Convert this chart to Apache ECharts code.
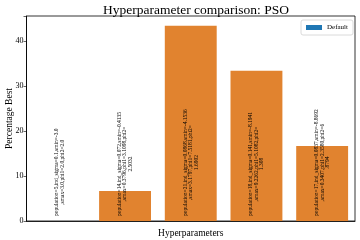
<!DOCTYPE html>
<html><head><meta charset="utf-8">
<script src="https://cdn.jsdelivr.net/npm/echarts@6/dist/echarts.min.js"></script>
<style>html,body{margin:0;padding:0;background:#fff}#c{width:360px;height:240px}</style>
</head><body><div id="c"></div>
<script>
const categories = ['c1','c2','c3','c4','c5'];
const values = [0, 6.667, 43.333, 33.333, 16.667];
const barLabels = [
  'population=5,ind_sigma=0.1,smin=-3.0\n,smax=3.0,phi1=2.0,phi2=2.0',
  'population=14,ind_sigma=0.072,smin=-0.4135\n,smax=0.3796,phi1=3.1098,phi2=\n2.5032',
  'population=21,ind_sigma=0.0868,smin=-4.1536\n,smax=3.1797,phi1=7.5181,phi2=\n1.6902',
  'population=18,ind_sigma=0.141,smin=-8.1941\n,smax=9.2262,phi1=5.1082,phi2=\n1.308',
  'population=17,ind_sigma=0.0837,smin=-8.8692\n,smax=0.3407,phi1=2.3580,phi2=6\n.8794'
];
const yTicks = [0, 10, 20, 30, 40];

const FONT = '"Liberation Serif", "DejaVu Serif", serif';
const LBL_SIZE = 5.5;
const mctx = document.createElement('canvas').getContext('2d');
mctx.font = LBL_SIZE + 'px ' + FONT;
function maxLineWidth(s){ return Math.max(...s.split('\n').map(l => mctx.measureText(l).width)); }

const chart = echarts.init(document.getElementById('c'), null, {renderer:'canvas'});
chart.setOption({
  animation:false,
  backgroundColor:'#fff',
  title:{text:'Hyperparameter comparison: PSO', left:191, top:-2, textAlign:'center',
    textStyle:{fontFamily:FONT, fontWeight:'normal', fontSize:13.5, color:'#000'}},
  legend:{right:7, top:20, data:[{name:'Default', itemStyle:{color:'#1f77b4'}}],
    icon:'rect', itemWidth:16, itemHeight:5, itemGap:4,
    backgroundColor:'#fff', borderColor:'#d0d0d0', borderWidth:0.8, borderRadius:2, padding:[4,5,4,5],
    textStyle:{fontFamily:FONT, fontSize:7, color:'#000'}},
  grid:{left:26.5, right:5, top:16, bottom:19, show:true, borderColor:'#000', borderWidth:0.8,
    containLabel:false, outerBoundsMode:'none'},
  xAxis:{type:'category', data:categories, name:'Hyperparameters', nameLocation:'middle', nameGap:7,
    nameMoveOverlap:false,
    nameTextStyle:{fontFamily:FONT, fontSize:9.5, color:'#000'},
    axisLine:{lineStyle:{color:'#000', width:0.8}},
    axisTick:{alignWithLabel:true, length:3, lineStyle:{color:'#000', width:0.6}},
    axisLabel:{show:false}},
  yAxis:{type:'value', min:0, max:45.5, interval:10, name:'Percentage Best', nameLocation:'middle', nameGap:12,
    nameMoveOverlap:false,
    nameTextStyle:{fontFamily:FONT, fontSize:9.5, color:'#000'},
    splitLine:{show:false},
    axisLine:{show:true, lineStyle:{color:'#000', width:0.8}},
    axisTick:{show:true, length:3, lineStyle:{color:'#000', width:0.6}},
    axisLabel:{fontFamily:FONT, fontSize:8, color:'#000', margin:3,
      formatter:v => yTicks.includes(v) ? String(v) : ''}},
  series:[
    {name:'Default', type:'bar', data:values, barCategoryGap:'21%',
     itemStyle:{color:'#e1832f'}},
    {type:'custom', silent:true, z:5, data:categories.map((c,i)=>[i,0]),
     renderItem:function(params, api){
       const i = api.value(0);
       const p = api.coord([i, 0]);
       const txt = barLabels[i];
       const w = maxLineWidth(txt);
       return {type:'text', x:p[0], y:p[1]-5-w/2, rotation:Math.PI/2,
         style:{text:txt, align:'center', verticalAlign:'middle', fill:'#000',
           font: LBL_SIZE + 'px ' + FONT, lineHeight:5.6}};
     }}
  ]
});
</script></body></html>
